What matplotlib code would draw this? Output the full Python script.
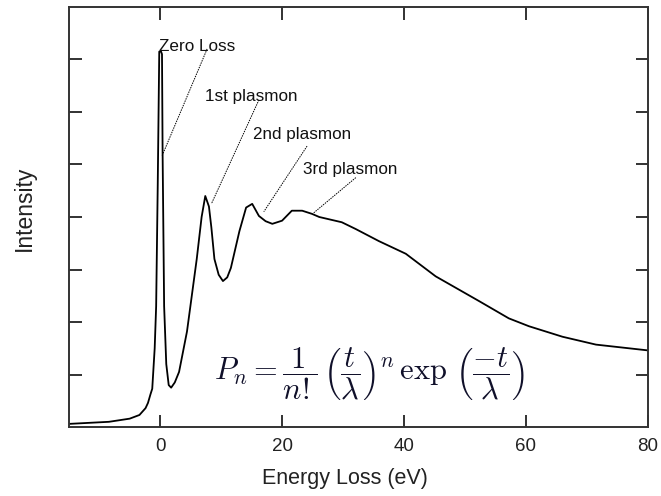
import matplotlib
matplotlib.use("Agg")
import matplotlib.pyplot as plt

plt.rcParams['font.family'] = ['Liberation Sans', 'DejaVu Sans']
plt.rcParams['mathtext.fontset'] = 'cm'

# spectrum (energy loss in eV, intensity in tick units)
energy = [-15, -8.4, -5.0, -3.4, -2.4, -2.0, -1.6, -1.3, -0.9, -0.66, -0.4, -0.15,
          0.15, 0.3, 0.4, 0.65, 1.0, 1.4, 1.8, 2.4, 3.1, 4.4, 6.0, 6.8, 7.4, 8.0,
          8.4, 8.9, 9.6, 10.3, 11.0, 11.6, 13.0, 14.1, 15.1, 16.2, 17.3, 18.4, 20.0,
          21.6, 23.3, 24.9, 26.1, 29.8, 32.1, 35.9, 40.3, 45.2, 52.3, 57.2, 60.5,
          66.0, 71.5, 80.0]
intensity = [0.06, 0.1, 0.16, 0.23, 0.36, 0.46, 0.62, 0.73, 1.5, 2.3, 4.6, 7.15,
             7.15, 7.1, 5.2, 2.3, 1.2, 0.8, 0.75, 0.85, 1.05, 1.82, 3.2, 4.0, 4.4, 4.2,
             3.8, 3.2, 2.9, 2.78, 2.85, 3.03, 3.73, 4.18, 4.25, 4.02, 3.92, 3.87, 3.93,
             4.12, 4.12, 4.06, 4.0, 3.9, 3.77, 3.54, 3.3, 2.87, 2.4, 2.07, 1.92,
             1.72, 1.57, 1.46]

# annotations: label, text anchor, point on curve
labels = ["Zero Loss", "1st plasmon", "2nd plasmon", "3rd plasmon"]
text_pos = [(-0.2, 7.24), (7.4, 6.3), (15.2, 5.58), (23.5, 4.9)]
line_start = [(7.7, 7.2), (16.2, 6.23), (24.1, 5.35), (32.1, 4.75)]
line_end = [(0.33, 5.17), (8.4, 4.25), (17.0, 4.1), (25.2, 4.08)]

fig = plt.figure(figsize=(6.61, 4.96), dpi=100)
ax = fig.add_axes([0.104, 0.139, 0.876, 0.847])

ax.plot(energy, intensity, color='black', lw=1.3)

for lab, tp, s, e in zip(labels, text_pos, line_start, line_end):
    ax.text(tp[0], tp[1], lab, fontsize=12.3, ha='left', va='center', color='#111111')
    ax.plot([s[0], e[0]], [s[1], e[1]], color='black', lw=0.7, ls=(0, (1.5, 1)))

ax.text(34.3, 1.0,
        r"$P_n = \dfrac{1}{n!}\,\left(\dfrac{t}{\lambda}\right)^n \,\exp\,\left(\dfrac{-t}{\lambda}\right)$",
        fontsize=22, ha='center', va='center', color='#10102a',
        bbox=dict(facecolor='white', edgecolor='none', pad=1))

ax.set_xlim(-15, 80)
ax.set_ylim(0, 8)
ax.set_xticks([0, 20, 40, 60, 80])
ax.set_yticks([1, 2, 3, 4, 5, 6, 7])
ax.set_yticklabels([])
ax.tick_params(direction='in', length=9, width=1.3, top=True, right=True,
               labelsize=13.5, colors='#222222', pad=8)
for sp in ax.spines.values():
    sp.set_linewidth(1.4)
    sp.set_color('#333333')

ax.set_xlabel("Energy Loss (eV)", fontsize=15.5, color='#222222')
ax.set_ylabel("Intensity", fontsize=16.5, color='#222222')
ax.xaxis.set_label_coords(0.477, -0.098)
ax.yaxis.set_label_coords(-0.057, 0.52)

fig.savefig("out.png", dpi=100)
